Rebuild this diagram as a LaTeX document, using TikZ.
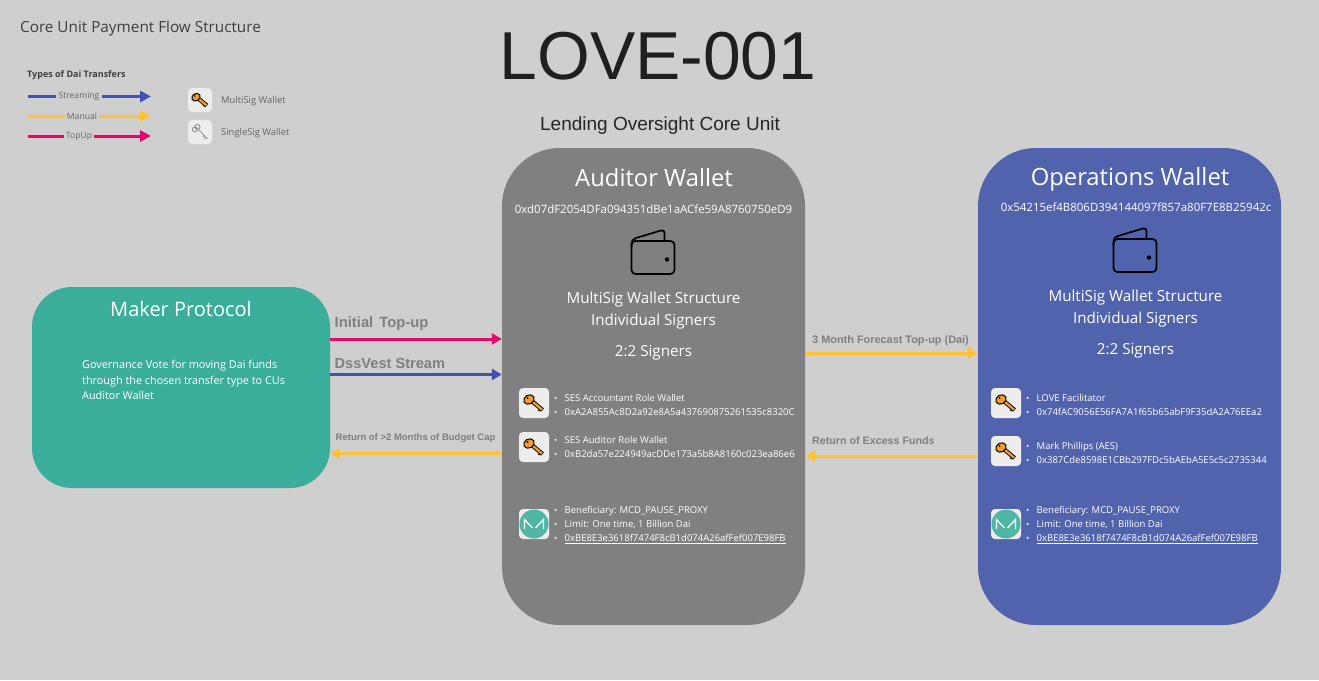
\documentclass[tikz,border=0pt]{standalone}
\usepackage{fontspec}
\setmainfont{Open Sans}
\newfontfamily\arialfont{Liberation Sans}
\usetikzlibrary{arrows.meta}
\definecolor{pagegrey}{HTML}{CFCFCF}
\definecolor{makerteal}{HTML}{3BAE9B}
\definecolor{auditgrey}{HTML}{808080}
\definecolor{opsblue}{HTML}{5263AE}
\definecolor{streamblue}{HTML}{3F51B5}
\definecolor{manualyellow}{HTML}{FFC233}
\definecolor{topuppink}{HTML}{E2096B}
\definecolor{keyorange}{HTML}{F29B2E}
\definecolor{labelgrey}{HTML}{7F7F7F}
\definecolor{inkgrey}{HTML}{3F3F3F}
\tikzset{
  walletbox/.style={minimum width=303pt,minimum height=477pt,rounded corners=58pt,inner sep=0pt},
  flowline/.style={line width=3pt,-{Triangle[length=10pt,width=11pt]}},
  legline/.style={line width=3pt},
  legarrow/.style={line width=3pt,-{Triangle[length=11pt,width=11pt]}},
  legtext/.style={font=\fontsize{8.6}{10}\selectfont,text=inkgrey!80,inner sep=2pt},
  flowtext/.style={font=\arialfont\bfseries,text=labelgrey,anchor=west,inner sep=0pt},
  iconbox/.style={fill=#1,rounded corners=4pt,minimum size=30pt,inner sep=0pt},
  iconbox/.default={black!7},
  listtext/.style={font=\fontsize{9.5}{14.2}\selectfont,text=white,anchor=north west,inner sep=0pt,align=left},
  headtext/.style={text=white,inner sep=0pt},
  keypic/.pic={
    \draw[black,line width=4.2pt] (-1,-1) -- (8.5,7);
    \draw[black,line width=1.2pt] (6.5,5.5) -- (4.5,8);
    \draw[keyorange,line width=2.4pt] (-1,-1) -- (8,6.6);
    \draw[black,line width=1pt,fill=keyorange,rotate around={30:(-5,-3.5)}] (-5,-3.5) ellipse (5.5pt and 4.5pt);
    \fill[black] (-6.5,-5) circle (1pt);
  },
  greykey/.pic={
    \draw[black!45,line width=.8pt] (-2,-3) -- (9,8) (5,4) -- (3,6) (7,6) -- (5,8);
    \draw[black!45,line width=.8pt] (-6,-3) circle (3pt) (-3,-6) circle (3pt);
  },
  makerpic/.pic={
    \draw[white,line width=1.2pt] (-9.5,5) -- (-9.5,-4.5) -- (-1.5,4) (9.5,5) -- (9.5,-4.5) -- (1.5,4);
  },
  walletpic/.pic={
    \draw[black,line width=1.7pt,rounded corners=4pt] (-21.5,-11) rectangle (21.5,22);
    \draw[black,line width=1.7pt,line join=round] (-21.5,-5) .. controls (-21.5,-12) and (-20,-13) .. (-17,-14) -- (8,-21.5) .. controls (10.5,-22) and (11.5,-21) .. (11.5,-19) -- (11.5,-11);
    \fill[black] (14,7.5) circle (2.2pt);
  },
}
\newcommand{\bul}{\makebox[11.5pt][l]{\hspace{1pt}\raisebox{.3pt}{\scalebox{.9}{•}}}}
\begin{document}
\begin{tikzpicture}[x=1pt,y=-1pt]
  \fill[pagegrey] (0,0) rectangle (1319,680);
  \useasboundingbox (0,0) rectangle (1319,680);
  % titles
  \node (pagetitle) at (140.5,29) [text=inkgrey,inner sep=0pt,font=\fontsize{15.3}{17}\selectfont] {Core Unit Payment Flow Structure};
  \node (lovetitle) at (658,56) [text=black!88,inner sep=0pt,font=\arialfont\fontsize{67.8}{72}\selectfont] {LOVE-001};
  \node (lovesub) at (660,126) [text=black!85,inner sep=0pt,font=\arialfont\fontsize{19}{22}\selectfont] {Lending Oversight Core Unit};
  % legend
  \node (legtitle) [anchor=west,inner sep=0pt,text=inkgrey,font=\fontsize{9}{10}\selectfont\bfseries] at (27,75.5) {Types of Dai Transfers};
  \coordinate (streamstart) at (28,96.5);
  \coordinate (streamend) at (151,96.5);
  \coordinate (manualstart) at (28,116);
  \coordinate (manualend) at (151,116);
  \coordinate (topupstart) at (28,136);
  \coordinate (topupend) at (151,136);
  \node (streamleg) [legtext] at (79,96.5) {Streaming};
  \node (manualleg) [legtext] at (82,116) {Manual};
  \node (topupleg) [legtext] at (79,136) {TopUp};
  \draw[legline,streamblue] (streamstart) -- (streamleg);
  \draw[legarrow,streamblue] (streamleg) -- (streamend);
  \draw[legline,manualyellow] (manualstart) -- (manualleg);
  \draw[legarrow,manualyellow] (manualleg) -- (manualend);
  \draw[legline,topuppink] (topupstart) -- (topupleg);
  \draw[legarrow,topuppink] (topupleg) -- (topupend);
  \node (multibox) [iconbox,minimum size=24pt] at (200,100) {};
  \pic[scale=.8] at (multibox) {keypic};
  \node (singlebox) [iconbox,minimum size=24pt] at (200,132) {};
  \pic[scale=.85] at (singlebox) {greykey};
  \node (multileg) [legtext,anchor=west,inner sep=0pt,font=\fontsize{9.4}{10}\selectfont] at (221,101) {MultiSig Wallet};
  \node (singleleg) [legtext,anchor=west,inner sep=0pt,font=\fontsize{9.4}{10}\selectfont] at (221,133) {SingleSig Wallet};
  % the three boxes
  \node (maker) [fill=makerteal,minimum width=298pt,minimum height=201pt,rounded corners=40pt,inner sep=0pt] at (181,387.5) {};
  \node (auditor) [walletbox,fill=auditgrey] at (653.5,386.5) {};
  \node (operations) [walletbox,fill=opsblue] at (1129.5,386.5) {};
  % maker protocol
  \node (makerhead) [headtext,font=\fontsize{20}{24}\selectfont] at (181,309) {Maker Protocol};
  \node (makertext) [listtext,font=\fontsize{10.85}{15.7}\selectfont] at (82,360) {Governance Vote for moving Dai funds\\through the chosen transfer type to CUs\\Auditor Wallet};
  % auditor wallet
  \node (audhead) [headtext,font=\fontsize{23.8}{28}\selectfont] at (654,178) {Auditor Wallet};
  \node (audaddr) [headtext,font=\fontsize{11.45}{14}\selectfont] at (653.5,209) {0xd07dF2054DFa094351dBe1aACfe59A8760750eD9};
  \pic at (653,252) {walletpic};
  \node (audstruct) [headtext,align=center,font=\fontsize{15.2}{22}\selectfont] at (653.5,311) {MultiSig Wallet Structure\\Individual Signers};
  \node (audcount) [headtext,font=\fontsize{15.2}{18}\selectfont] at (653.5,353) {2:2 Signers};
  \node (audkeya) [iconbox] at (534,403) {};
  \pic at (audkeya) {keypic};
  \node (audtexta) [listtext] at (553,394) {\bul SES Accountant Role Wallet\\\bul 0xA2A855Ac8D2a92e8A5a437690875261535c8320C};
  \node (audkeyb) [iconbox] at (534,447) {};
  \pic at (audkeyb) {keypic};
  \node (audtextb) [listtext] at (553,436) {\bul SES Auditor Role Wallet\\\bul 0xB2da57e224949acDDe173a5b8A8160c023ea86e6};
  \node (audlogo) [iconbox] at (534,524) {};
  \fill[makerteal!90!white] (audlogo) circle (14.5pt);
  \pic at (audlogo) {makerpic};
  \node (audtextc) [listtext] at (553,506) {\bul Beneficiary: MCD\_PAUSE\_PROXY\\\bul Limit: One time, 1 Billion Dai\\\bul \underline{0xBE8E3e3618f7474F8cB1d074A26afFef007E98FB}};
  % operations wallet
  \node (opshead) [headtext,font=\fontsize{23.8}{28}\selectfont] at (1130,179) {Operations Wallet};
  \node (opsaddr) [headtext,font=\fontsize{11.45}{14}\selectfont] at (1136,207) {0x54215ef4B806D394144097f857a80F7E8B25942c};
  \pic at (1135,250) {walletpic};
  \node (opsstruct) [headtext,align=center,font=\fontsize{15.2}{22}\selectfont] at (1135.5,309) {MultiSig Wallet Structure\\Individual Signers};
  \node (opscount) [headtext,font=\fontsize{15.2}{18}\selectfont] at (1135.5,351) {2:2 Signers};
  \node (opskeya) [iconbox] at (1006,403) {};
  \pic at (opskeya) {keypic};
  \node (opstexta) [listtext] at (1025,394) {\bul LOVE Facilitator\\\bul 0x74fAC9056E56FA7A1f65b65abF9F35dA2A76EEa2};
  \node (opskeyb) [iconbox] at (1006,451) {};
  \pic at (opskeyb) {keypic};
  \node (opstextb) [listtext] at (1025,442) {\bul Mark Phillips (AES)\\\bul 0x387Cde8598E1CBb297FDc5bAEbA5E5c5c2735344};
  \node (opslogo) [iconbox] at (1006,524) {};
  \fill[makerteal!90!white] (opslogo) circle (14.5pt);
  \pic at (opslogo) {makerpic};
  \node (opstextc) [listtext] at (1025,506) {\bul Beneficiary: MCD\_PAUSE\_PROXY\\\bul Limit: One time, 1 Billion Dai\\\bul \underline{0xBE8E3e3618f7474F8cB1d074A26afFef007E98FB}};
  % flows
  \coordinate (initlevel) at (0,339);
  \coordinate (vestlevel) at (0,374.5);
  \coordinate (returnlevel) at (0,453.5);
  \coordinate (forecastlevel) at (0,353);
  \coordinate (excesslevel) at (0,456);
  \draw[flowline,topuppink] (maker.east |- initlevel) -- (auditor.west |- initlevel);
  \draw[flowline,streamblue] (maker.east |- vestlevel) -- (auditor.west |- vestlevel);
  \draw[flowline,manualyellow] (auditor.west |- returnlevel) -- (maker.east |- returnlevel);
  \draw[flowline,manualyellow] (auditor.east |- forecastlevel) -- (operations.west |- forecastlevel);
  \draw[flowline,manualyellow] (operations.west |- excesslevel) -- (auditor.east |- excesslevel);
  \node (initlabel) [flowtext,font=\arialfont\bfseries\fontsize{14.8}{16}\selectfont] at (334.5,323.5) {Initial\hspace{2pt} Top-up};
  \node (vestlabel) [flowtext,font=\arialfont\bfseries\fontsize{14.6}{16}\selectfont] at (334.5,363) {DssVest Stream};
  \node (returnlabel) [flowtext,font=\arialfont\bfseries\fontsize{9.5}{10}\selectfont] at (335.5,438) {Return of >2 Months of Budget Cap};
  \node (forecastlabel) [flowtext,font=\arialfont\bfseries\fontsize{10.9}{12}\selectfont] at (812,341) {3 Month Forecast Top-up (Dai)};
  \node (excesslabel) [flowtext,font=\arialfont\bfseries\fontsize{10.7}{12}\selectfont] at (812,441) {Return of Excess Funds};
\end{tikzpicture}
\end{document}
